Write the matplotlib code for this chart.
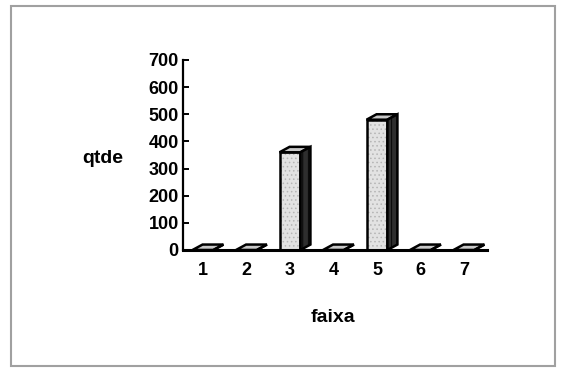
import matplotlib
matplotlib.use("Agg")
import matplotlib.pyplot as plt
from matplotlib.patches import Polygon, Rectangle

# quantidade por faixa
faixas = [1, 2, 3, 4, 5, 6, 7]
qtde = [0, 0, 360, 0, 480, 0, 0]
yticks = [0, 100, 200, 300, 400, 500, 600, 700]

plt.rcParams['font.family'] = ['Liberation Sans', 'DejaVu Sans']
plt.rcParams['font.weight'] = 'bold'
plt.rcParams['font.size'] = 13
plt.rcParams['hatch.linewidth'] = 0.6

fig = plt.figure(figsize=(5.62, 3.68), dpi=100)
fig.patch.set_facecolor('white')

# moldura cinza em volta do grafico
fig.patches.append(Rectangle((0.02, 0.005), 0.968, 0.98, transform=fig.transFigure,
                             fill=False, edgecolor='#a0a0a0', linewidth=1.5))

ax = fig.add_axes([0.3256, 0.3207, 0.541, 0.5163])

width = 0.48
dx = 0.23   # profundidade horizontal
dy = 20     # profundidade vertical

# face frontal pontilhada
ax.bar(faixas, qtde, width=width, color='#e2e2e2', edgecolor='#b5b5b5',
       linewidth=0, hatch='....', zorder=3)
bars = ax.bar(faixas, qtde, width=width, fill=False, edgecolor='black',
              linewidth=1.8, zorder=3)

for b in bars:
    x0 = b.get_x()
    x1 = x0 + b.get_width()
    h = b.get_height()
    # face superior
    ax.add_patch(Polygon([(x0, h), (x0 + dx, h + dy), (x1 + dx, h + dy), (x1, h)],
                         closed=True, facecolor='#c8c8c8', edgecolor='black',
                         linewidth=1.8, zorder=4))
    # face lateral
    ax.add_patch(Polygon([(x1, 0), (x1, h), (x1 + dx, h + dy), (x1 + dx, dy)],
                         closed=True, facecolor='#2e2e2e', edgecolor='black',
                         linewidth=1.8, hatch='|||', zorder=4))

ax.set_xlim(0.54, 7.53)
ax.set_ylim(0, 700)
ax.set_yticks(yticks)
ax.set_xticks(faixas)
ax.set_xticklabels([str(f) for f in faixas])

ax.spines['top'].set_visible(False)
ax.spines['right'].set_visible(False)
ax.spines['left'].set_linewidth(1.6)
ax.spines['bottom'].set_linewidth(2.2)
ax.spines['bottom'].set_zorder(5)

ax.tick_params(axis='y', direction='in', length=4, width=1.4, pad=3)
ax.tick_params(axis='x', length=0, pad=9)

fig.text(0.182, 0.57, 'qtde', ha='center', va='center', fontsize=14, fontweight='bold')
fig.text(0.593, 0.136, 'faixa', ha='center', va='center', fontsize=14, fontweight='bold')

plt.savefig("out.png", dpi=100)
